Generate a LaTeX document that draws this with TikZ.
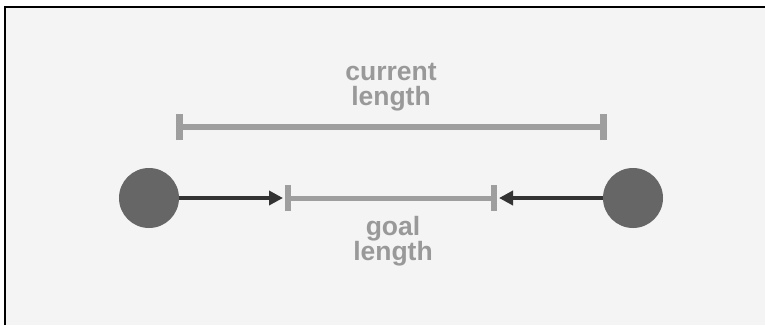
\documentclass[tikz,border=0pt]{standalone}
\usepackage{fontspec}
\setmainfont{Liberation Sans}
\usetikzlibrary{arrows.meta}
\definecolor{bg}{HTML}{F4F4F4}
\definecolor{bargray}{HTML}{9E9E9E}
\definecolor{txtgray}{HTML}{999999}
\definecolor{ballgray}{HTML}{666666}
\definecolor{arrowdark}{HTML}{333333}
\tikzset{
  ball/.style={circle, fill=ballgray, minimum size=60pt, inner sep=0pt},
  bar/.style={draw=bargray, line width=6pt},
  tick/.style={draw=bargray, line width=6pt},
  push/.style={draw=arrowdark, line width=4pt, -{Triangle[length=14pt,width=14pt]}, shorten >=2pt},
  lbl/.style={text=txtgray, font=\bfseries\fontsize{26.5}{25}\selectfont, align=center, inner sep=0pt}
}
\begin{document}
\begin{tikzpicture}[x=1pt,y=-1pt]
\useasboundingbox (0,0) rectangle (765,325);
\fill[white] (0,0) rectangle (765,325);
\fill[bg] (5,7) rectangle (765,325);
\draw[line width=2pt] (5,325) -- (5,7) -- (765,7);
% balls
\node[ball] (L) at (149,198) {};
\node[ball] (R) at (633,198) {};
% goal bar
\coordinate (g1) at (288,198);
\coordinate (g2) at (494,198);
\draw[bar, line width=5pt] (g1) -- (g2);
\draw[tick] ([yshift=-13pt]g1) -- ([yshift=13pt]g1);
\draw[tick] ([yshift=-13pt]g2) -- ([yshift=13pt]g2);
% current bar
\coordinate (c1) at (179,127);
\coordinate (c2) at (603,127);
\draw[bar] (c1) -- (c2);
\draw[tick, line width=7pt] ([yshift=-13pt]c1) -- ([yshift=13pt]c1);
\draw[tick, line width=7pt] ([yshift=-13pt]c2) -- ([yshift=13pt]c2);
% arrows
\draw[push] (L.east) -- ([xshift=-3pt]g1);
\draw[push] (R.west) -- ([xshift=3pt]g2);
% labels
\node[lbl, anchor=base] (cur) at (391,105) {current\\length};
\node[lbl, anchor=base] (goal) at (393,260) {goal\\length};
\end{tikzpicture}
\end{document}
